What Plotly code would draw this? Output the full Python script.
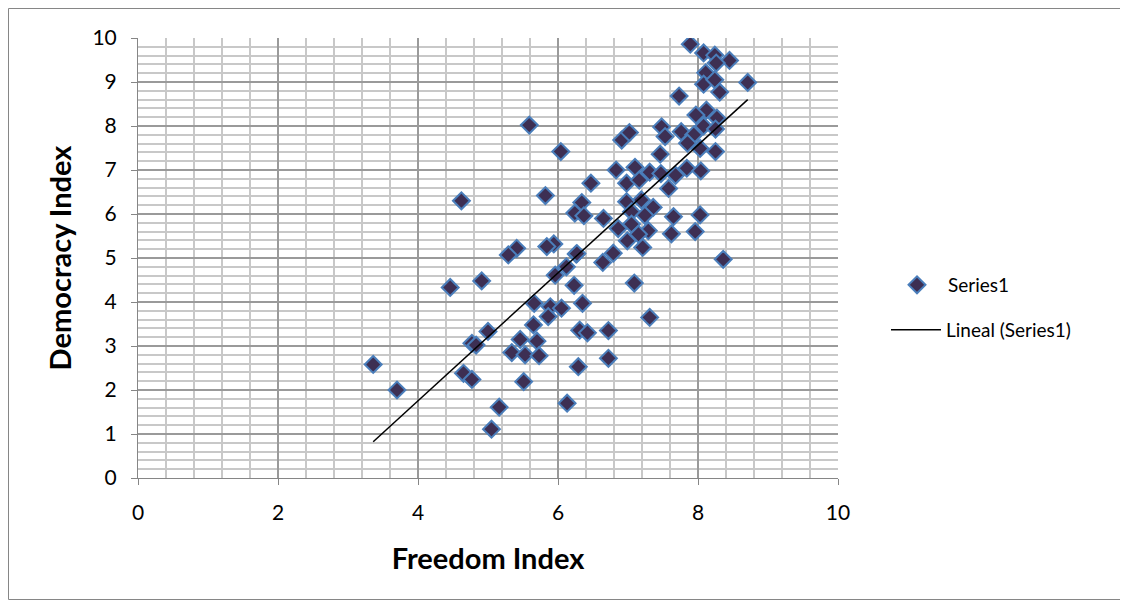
import numpy as np
import plotly.graph_objects as go

# Data
freedom = [3.36, 3.70, 4.46, 4.91, 5.00, 4.77, 4.83, 4.65, 4.77, 5.16,
           5.05, 5.66, 5.89, 5.86, 5.65, 5.46, 5.70, 5.34, 5.53, 5.73,
           5.51, 5.96, 6.13, 5.59, 6.04, 5.82, 6.47, 6.83, 6.91, 7.02,
           7.10, 6.98, 7.16, 7.31, 7.47, 7.48, 7.53, 7.46, 7.58, 7.68,
           6.34, 6.24, 6.37, 6.65, 6.98, 7.19, 7.36, 6.86, 7.05, 7.24,
           7.05, 7.29, 6.99, 7.15, 7.21, 7.62, 6.79, 6.64, 7.09, 5.41,
           5.29, 5.94, 5.84, 6.26, 6.12, 6.23, 8.03, 7.96, 8.36, 6.35,
           6.05, 7.31, 6.31, 6.42, 6.72, 6.72, 6.29, 4.62, 7.65, 7.89,
           8.08, 8.24, 8.45, 8.26, 8.71, 8.11, 8.08, 8.24, 8.31, 7.73,
           8.12, 7.97, 8.27, 8.08, 8.25, 7.76, 7.94, 7.85, 8.03, 8.25,
           7.84, 8.04, 6.27]
democracy = [2.58, 2.00, 4.33, 4.48, 3.33, 3.06, 3.02, 2.38, 2.24, 1.61,
             1.11, 3.97, 3.89, 3.67, 3.48, 3.15, 3.11, 2.85, 2.80, 2.78,
             2.19, 4.61, 1.70, 8.02, 7.42, 6.42, 6.70, 7.00, 7.68, 7.85,
             7.06, 6.70, 6.77, 6.95, 6.92, 7.98, 7.76, 7.36, 6.58, 6.88,
             6.26, 6.02, 5.96, 5.90, 6.28, 6.32, 6.15, 5.67, 6.05, 5.97,
             5.77, 5.62, 5.39, 5.54, 5.24, 5.55, 5.11, 4.90, 4.43, 5.22,
             5.07, 5.32, 5.26, 5.09, 4.80, 4.38, 5.98, 5.60, 4.97, 3.97,
             3.86, 3.65, 3.36, 3.30, 3.35, 2.72, 2.53, 6.30, 5.94, 9.86,
             9.66, 9.61, 9.49, 9.43, 8.99, 9.21, 8.95, 9.05, 8.77, 8.68,
             8.36, 8.25, 8.18, 8.00, 7.93, 7.87, 7.80, 7.61, 7.49, 7.42,
             7.04, 6.98, 5.10]

x_ticks = [0, 2, 4, 6, 8, 10]
y_ticks = [0, 1, 2, 3, 4, 5, 6, 7, 8, 9, 10]

# Linear trend ("Lineal") coefficients: slope, intercept
trend_coef = [1.453, -4.057]
trend_x = np.array([min(freedom), max(freedom)])
trend_y = trend_coef[0] * trend_x + trend_coef[1]

FONT = "Lato"

fig = go.Figure()
fig.add_trace(go.Scatter(
    x=freedom, y=democracy, mode="markers", name="Series1",
    marker=dict(symbol="diamond", size=13, color="#3d2f53",
                line=dict(color="#4a7ebb", width=2)),
    legend="legend", showlegend=True,
))
fig.add_trace(go.Scatter(
    x=trend_x, y=trend_y, mode="lines", name="Lineal (Series1)",
    line=dict(color="black", width=1.5),
    legend="legend2", showlegend=True,
))

axis_common = dict(
    showline=True, linecolor="#868686", linewidth=1,
    gridcolor="#9a9a9a", gridwidth=1.5,
    ticks="outside", ticklen=6, tickcolor="#868686",
    tickfont=dict(family=FONT, size=21, color="black"),
    zeroline=False, mirror=False,
)

# page body has an 8px default margin: offset the figure accordingly
W, H = 1120, 593
L, R, T, B = 130, 290, 30, 123
pw, ph = W - L - R, H - T - B

fig.update_xaxes(
    range=[0, 10], tickvals=x_ticks, ticktext=[str(v) for v in x_ticks],
    minor=dict(dtick=0.4, showgrid=True, gridcolor="#c8c8c8", gridwidth=1.5, ticks=""),
    ticklabelstandoff=10,
    title=dict(text="<b>Freedom Index</b>", font=dict(family=FONT, size=29, color="black"),
               standoff=25),
    **axis_common,
)
fig.update_yaxes(
    range=[0, 10], tickvals=y_ticks, ticktext=[str(v) for v in y_ticks],
    minor=dict(dtick=0.2, showgrid=True, gridcolor="#c8c8c8", gridwidth=1.5, ticks=""),
    ticklabelstandoff=10,
    title=dict(text="<b>Democracy Index</b>", font=dict(family=FONT, size=29, color="black"),
               standoff=12),
    **axis_common,
)

def px_x(page_x):
    return (page_x - 8 - L) / pw

def px_y(page_y):
    return (H - B - (page_y - 8)) / ph

fig.update_layout(
    width=W, height=H,
    margin=dict(l=L, r=R, t=T, b=B, pad=0),
    plot_bgcolor="white", paper_bgcolor="white",
    showlegend=True,
    font=dict(family=FONT, size=19, color="black"),
    legend=dict(x=px_x(886), y=px_y(284 - 18), xanchor="left", yanchor="top",
                itemwidth=52,
                bgcolor="rgba(0,0,0,0)", font=dict(family=FONT, size=19)),
    legend2=dict(x=px_x(886), y=px_y(330 - 19), xanchor="left", yanchor="top",
                 itemwidth=50,
                 bgcolor="rgba(0,0,0,0)", font=dict(family=FONT, size=19)),
    shapes=[dict(type="rect", xref="paper", yref="paper",
                 x0=(0.5 - L) / pw, x1=(W - 1.5 - L) / pw,
                 y0=(1.5 - B) / ph, y1=(H - 0.5 - B) / ph,
                 line=dict(color="#868686", width=1), fillcolor="rgba(0,0,0,0)",
                 layer="below")],
)

fig.write_html("out.html")
